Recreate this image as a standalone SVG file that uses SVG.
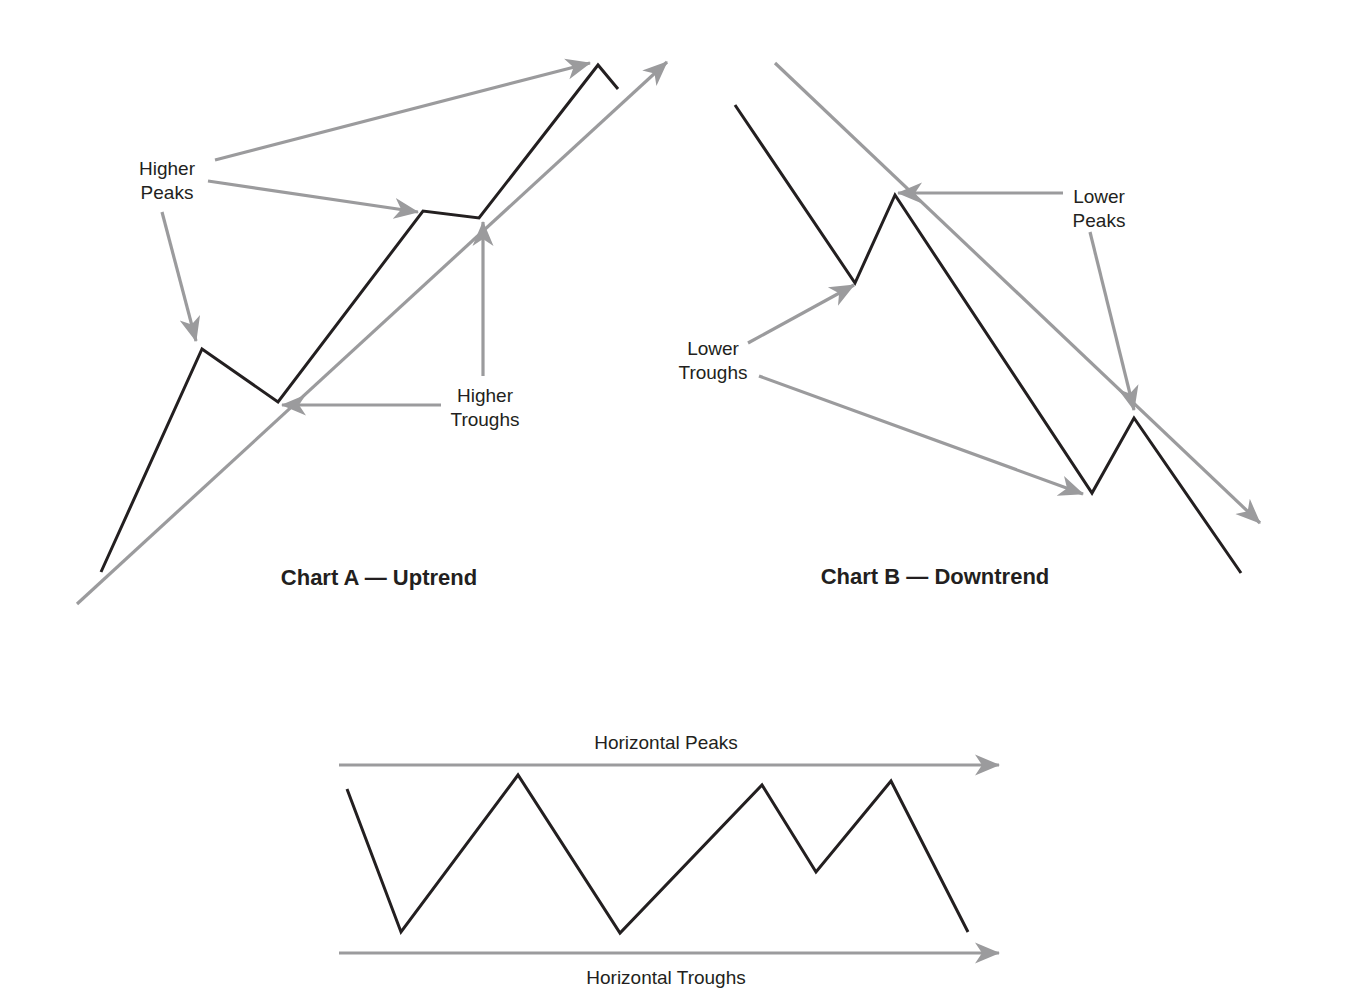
<svg xmlns="http://www.w3.org/2000/svg" width="1356" height="996" viewBox="0 0 1356 996">
<style>
.price{fill:none;stroke:#231f20;stroke-width:3;stroke-linejoin:miter}
.arr{fill:none;stroke:#9b9b9d;stroke-width:3.2;marker-end:url(#ah)}
.lbl{font-family:"Liberation Sans",Arial,sans-serif;font-size:19px;fill:#231f20;text-anchor:middle}
.ttl{font-family:"Liberation Sans",Arial,sans-serif;font-size:22px;font-weight:bold;fill:#231f20;text-anchor:middle}
</style>
<defs>
<marker id="ah" markerUnits="userSpaceOnUse" markerWidth="28" markerHeight="24" viewBox="0 0 28 24" refX="24" refY="12" orient="auto">
<path d="M0,1.5 L25,12 L0,22.5 L7,12 z" fill="#9b9b9d"/>
</marker>
</defs>
<rect width="1356" height="996" fill="#ffffff"/>
<g id="connectors">
<line class="arr" x1="77" y1="604" x2="667" y2="62"/>
<line class="arr" x1="215" y1="160" x2="590" y2="63"/>
<line class="arr" x1="208" y1="181" x2="418" y2="212"/>
<line class="arr" x1="162" y1="212" x2="196" y2="341"/>
<line class="arr" x1="483" y1="376" x2="483" y2="222"/>
<line class="arr" x1="441" y1="405" x2="282" y2="405"/>
<line class="arr" x1="775" y1="63" x2="1260" y2="523"/>
<line class="arr" x1="1063" y1="193" x2="898" y2="193"/>
<line class="arr" x1="1090" y1="232" x2="1134" y2="410"/>
<line class="arr" x1="748" y1="343" x2="854" y2="285"/>
<line class="arr" x1="759" y1="376" x2="1083" y2="494"/>
<line class="arr" x1="339" y1="765" x2="999" y2="765"/>
<line class="arr" x1="339" y1="953" x2="999" y2="953"/>
</g>
<g id="chart-a">
<polyline class="price" points="101,572 202,349 278,402 423,211 479,218 598,65 618,89"/>
</g>
<g id="chart-b">
<polyline class="price" points="735,105 855,283 895,195 1092,493 1134,418 1241,573"/>
</g>
<g id="chart-c">
<polyline class="price" points="347,789 401,932 518,775 620,933 762,785 816,872 891,781 968,932"/>
</g>
<g id="label-higher-peaks">
<text class="lbl" x="167" y="175">Higher</text>
<text class="lbl" x="167" y="199">Peaks</text>
</g>
<g id="label-higher-troughs">
<text class="lbl" x="485" y="402">Higher</text>
<text class="lbl" x="485" y="426">Troughs</text>
</g>
<g id="label-lower-peaks">
<text class="lbl" x="1099" y="203">Lower</text>
<text class="lbl" x="1099" y="227">Peaks</text>
</g>
<g id="label-lower-troughs">
<text class="lbl" x="713" y="355">Lower</text>
<text class="lbl" x="713" y="379">Troughs</text>
</g>
<g id="title-a"><text class="ttl" x="379" y="585">Chart A — Uptrend</text></g>
<g id="title-b"><text class="ttl" x="935" y="584">Chart B — Downtrend</text></g>
<g id="label-horizontal-peaks"><text class="lbl" x="666" y="749">Horizontal Peaks</text></g>
<g id="label-horizontal-troughs"><text class="lbl" x="666" y="984">Horizontal Troughs</text></g>
</svg>
